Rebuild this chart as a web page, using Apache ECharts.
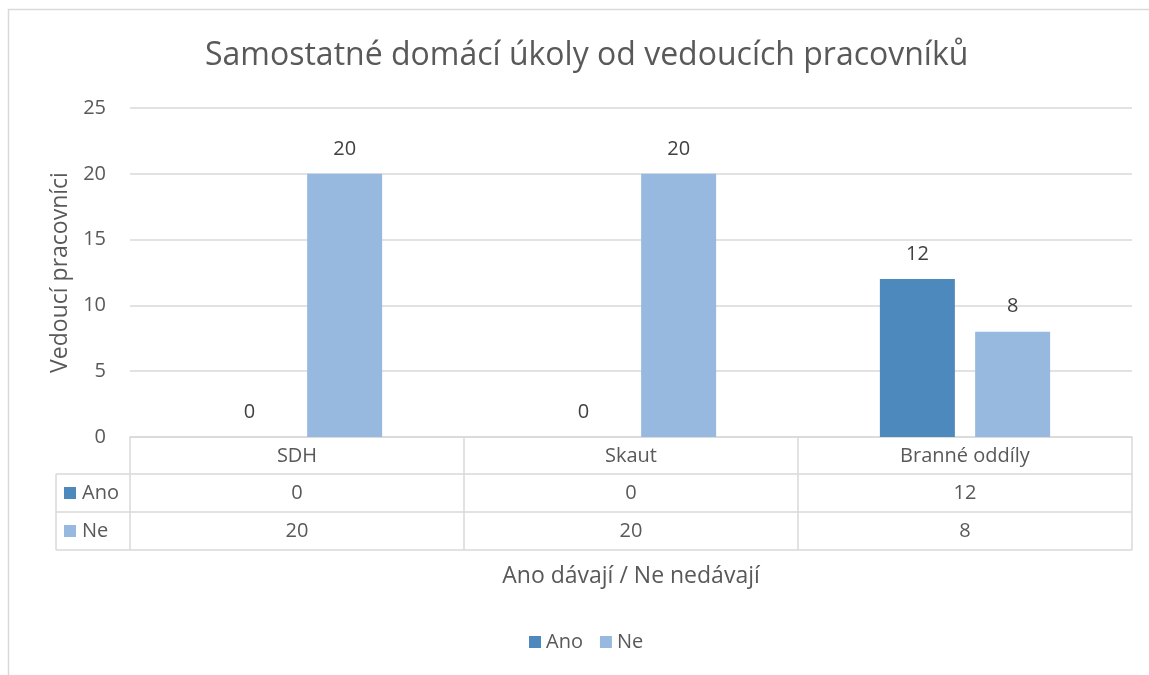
<!DOCTYPE html>
<html>
<head>
<meta charset="utf-8">
<script src="https://cdn.jsdelivr.net/npm/echarts@6/dist/echarts.min.js"></script>
<style>
html, body { margin: 0; padding: 0; background: #fff; }
#chart { width: 1149px; height: 675px; }
</style>
</head>
<body>
<div id="chart"></div>
<script>
const categories = ['SDH', 'Skaut', 'Branné oddíly']
const anoValues = [0, 0, 12]
const neValues = [20, 20, 8]
const seriesNames = ['Ano', 'Ne']
const colors = ['#4e89bd', '#98b9df']

const font = '"Open Sans", "Noto Sans", sans-serif'
const textColor = '#595959'
const lineColor = '#d9d9d9'

const chart = echarts.init(document.getElementById('chart'))

chart.setOption({
    backgroundColor: '#fff',
    textStyle: { fontFamily: font, color: textColor },
    title: {
        text: 'Samostatné domácí úkoly od vedoucích pracovníků',
        left: 200,
        top: 35,
        textStyle: { fontFamily: font, fontSize: 32, fontWeight: 'normal', color: textColor }
    },
    legend: {
        bottom: 18,
        left: 524,
        icon: 'rect',
        itemWidth: 12,
        itemHeight: 12,
        itemGap: 17,
        textStyle: { fontFamily: font, fontSize: 20, color: textColor },
        data: seriesNames
    },
    grid: { left: 130, right: 17, top: 108, bottom: 238 },
    xAxis: {
        type: 'category',
        data: categories,
        axisLine: { lineStyle: { color: lineColor, width: 1.5 } },
        axisTick: { show: false },
        axisLabel: { margin: 9, fontSize: 20, color: textColor, fontFamily: font },
        name: 'Ano dávají / Ne nedávají',
        nameLocation: 'middle',
        nameGap: 128,
        nameTextStyle: { fontSize: 23, color: textColor, fontFamily: font }
    },
    yAxis: {
        type: 'value',
        min: 0,
        max: 25,
        interval: 5,
        axisLine: { show: false },
        axisTick: { show: false },
        axisLabel: { margin: 24, fontSize: 20, color: textColor, fontFamily: font },
        splitLine: { lineStyle: { color: lineColor, width: 1.5 } },
        name: 'Vedoucí pracovníci',
        nameLocation: 'middle',
        nameGap: 58,
        nameTextStyle: { fontSize: 23, color: textColor, fontFamily: font }
    },
    series: [
        {
            name: seriesNames[0],
            type: 'bar',
            data: anoValues,
            barWidth: 75,
            barGap: '27%',
            itemStyle: { color: colors[0] },
            label: { show: true, position: 'top', distance: 15, fontSize: 20, color: '#404040', fontFamily: font }
        },
        {
            name: seriesNames[1],
            type: 'bar',
            data: neValues,
            barWidth: 75,
            barGap: '27%',
            itemStyle: { color: colors[1] },
            label: { show: true, position: 'top', distance: 15, fontSize: 20, color: '#404040', fontFamily: font }
        }
    ]
})

// data table under the axis
function drawTable() {
    const elements = []
    const centers = categories.map((c, i) => chart.convertToPixel({ xAxisIndex: 0 }, i))
    const band = centers[1] - centers[0]
    const edges = [centers[0] - band / 2].concat(centers.map(c => c + band / 2))
    const right = edges[edges.length - 1]
    const rowTop = chart.convertToPixel({ yAxisIndex: 0 }, 0)
    const rows = [rowTop, rowTop + 37, rowTop + 75, rowTop + 113]
    const labelLeft = 56
    const lineStyle = { stroke: lineColor, lineWidth: 1.5 }

    // horizontal lines
    for (let i = 1; i < rows.length; i++) {
        elements.push({ type: 'line', shape: { x1: labelLeft, y1: rows[i], x2: right, y2: rows[i] }, style: lineStyle })
    }
    // vertical lines
    elements.push({ type: 'line', shape: { x1: labelLeft, y1: rows[1], x2: labelLeft, y2: rows[3] }, style: lineStyle })
    edges.forEach(x => {
        elements.push({ type: 'line', shape: { x1: x, y1: rows[0], x2: x, y2: rows[3] }, style: lineStyle })
    })

    const tableData = [anoValues, neValues]
    tableData.forEach((vals, r) => {
        const cy = (rows[r + 1] + rows[r + 2]) / 2
        elements.push({ type: 'rect', shape: { x: 64, y: cy - 6, width: 12, height: 12 }, style: { fill: colors[r] } })
        elements.push({ type: 'text', x: 82, y: cy, style: { text: seriesNames[r], fill: textColor, font: '20px ' + font, verticalAlign: 'middle' } })
        vals.forEach((v, c) => {
            elements.push({ type: 'text', x: centers[c], y: cy, style: { text: String(v), fill: textColor, font: '20px ' + font, align: 'center', verticalAlign: 'middle' } })
        })
    })

    // outer frame
    elements.push({ type: 'rect', shape: { x: 8.5, y: 9.5, width: 1300, height: 800 }, style: { fill: 'none', stroke: lineColor, lineWidth: 1.5 } })

    chart.setOption({ graphic: elements })
}

drawTable()
</script>
</body>
</html>
